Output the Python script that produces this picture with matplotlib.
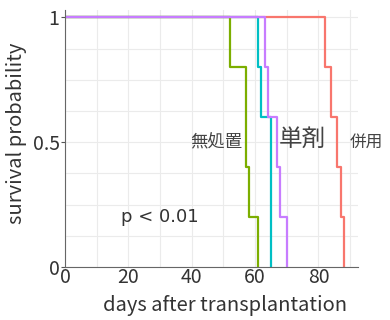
import numpy as np
import matplotlib
matplotlib.use("Agg")
import matplotlib.pyplot as plt

plt.rcParams['font.family'] = ['Noto Sans CJK JP', 'DejaVu Sans']

# survival curves (step, post)
green_t = [0, 52, 57, 58, 61]
green_s = [1, 0.8, 0.4, 0.2, 0]
cyan_t = [0, 61, 62, 65]
cyan_s = [1, 0.8, 0.6, 0]
red_t = [0, 82, 84, 86, 87, 88]
red_s = [1, 0.8, 0.6, 0.4, 0.2, 0]
purple_t = [0, 63, 64, 67, 68, 70]
purple_s = [1, 0.8, 0.6, 0.4, 0.2, 0]

group_labels = ["無処置", "単剤", "併用"]
p_text = "p < 0.01"

fig = plt.figure(figsize=(3.9, 3.2), dpi=100)
ax = fig.add_axes([0.167, 0.166, 0.751, 0.803])

ax.step(green_t, green_s, where="post", color="#7CAE00", lw=1.6)
ax.step(cyan_t, cyan_s, where="post", color="#00BFC4", lw=1.6)
ax.step(red_t, red_s, where="post", color="#F8766D", lw=1.6)
ax.step(purple_t, purple_s, where="post", color="#C77CFF", lw=1.6)

ax.set_xlim(0, 92.5)
ax.set_ylim(0, 1.03)
ax.set_xticks([0, 20, 40, 60, 80])
ax.set_yticks([0, 0.5, 1])
ax.set_yticklabels(["0", "0.5", "1"])
ax.set_xticks(np.arange(0, 91, 10), minor=True)
ax.set_yticks(np.arange(0, 1.01, 0.125), minor=True)
ax.grid(which="both", color="#ebebeb", lw=0.8)
ax.set_axisbelow(True)
ax.tick_params(which="minor", length=0)
ax.tick_params(axis="x", length=0, labelsize=14, colors="#333333", pad=0)
ax.tick_params(axis="y", length=3, labelsize=14, colors="#333333", pad=1, color="#555555")
for s in ["top", "right"]:
    ax.spines[s].set_visible(False)
for s in ["left", "bottom"]:
    ax.spines[s].set_color("#666666")

ax.set_xlabel("days after transplantation", fontsize=14.5, color="#333333")
ax.xaxis.set_label_coords(0.545, -0.11)
ax.set_ylabel("survival probability", fontsize=14.5, color="#333333")
ax.yaxis.set_label_coords(-0.13, 0.52)

ax.text(56, 0.5, group_labels[0], fontsize=12.5, color="#444444", ha="right", va="center")
ax.text(67.5, 0.51, group_labels[1], fontsize=17, color="#444444", ha="left", va="center")
ax.text(90, 0.5, group_labels[2], fontsize=12, color="#444444", ha="left", va="center")
ax.text(17.5, 0.2, p_text, fontsize=13, family="DejaVu Sans", color="#333333", ha="left", va="center")

fig.savefig("out.png", dpi=100)
